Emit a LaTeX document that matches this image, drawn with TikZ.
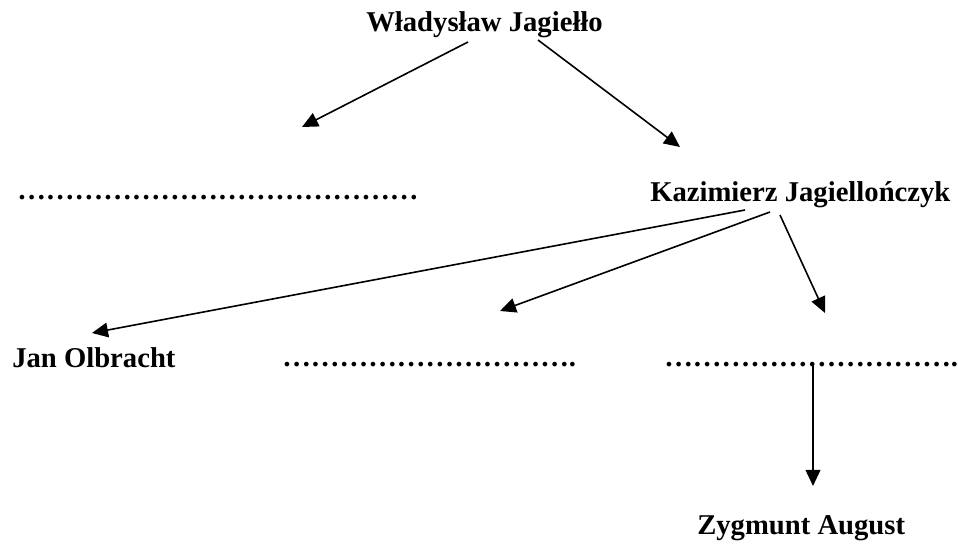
\documentclass[tikz,border=0pt]{standalone}
\usepackage{fontspec}
\setmainfont{Liberation Serif}
\usetikzlibrary{arrows.meta}
\ExplSyntaxOn
\NewDocumentCommand\dotrun{m}{\prg_replicate:nn{#1}{…}}
\ExplSyntaxOff
\begin{document}
\begin{tikzpicture}[x=0.75pt,y=-0.75pt,
  lbl/.style={anchor=base west,inner sep=0pt,font=\fontsize{21.5}{26}\selectfont\bfseries},
  conn/.style={line width=1.2pt,-{Triangle[length=12pt,width=11pt]}}]
\useasboundingbox (0,0) rectangle (958,545);
% labels
\node[lbl] (wj) at (366,32) {Władysław Jagiełło};
\node[lbl] (d1) at (17,200) {\dotrun{14}};
\node[lbl] (kj) at (650,202) {Kazimierz Jagiellończyk};
\node[lbl] (jo) at (12,368) {Jan Olbracht};
\node[lbl] (d2) at (282,367) {\dotrun{10}.};
\node[lbl] (d3) at (664,367) {\dotrun{10}.};
\node[lbl] (za) at (697,535) {Zygmunt August};
% connector ends
\coordinate (wjL) at (468,42);
\coordinate (wjR) at (538,40);
\coordinate (d1T) at (302,127);
\coordinate (kjT) at (680,147);
\coordinate (kjA) at (745,210);
\coordinate (kjB) at (770,212);
\coordinate (kjC) at (780,215);
\coordinate (joT) at (92,333);
\coordinate (d2T) at (500,311);
\coordinate (d3T) at (825,313);
\coordinate (d3B) at (813,366);
\coordinate (zaT) at (813,486);
% connectors
\draw[conn] (wjL) -- (d1T);
\draw[conn] (wjR) -- (kjT);
\draw[conn] (kjA) -- (joT);
\draw[conn] (kjB) -- (d2T);
\draw[conn] (kjC) -- (d3T);
\draw[conn] (d3B) -- (zaT);
\end{tikzpicture}
\end{document}
